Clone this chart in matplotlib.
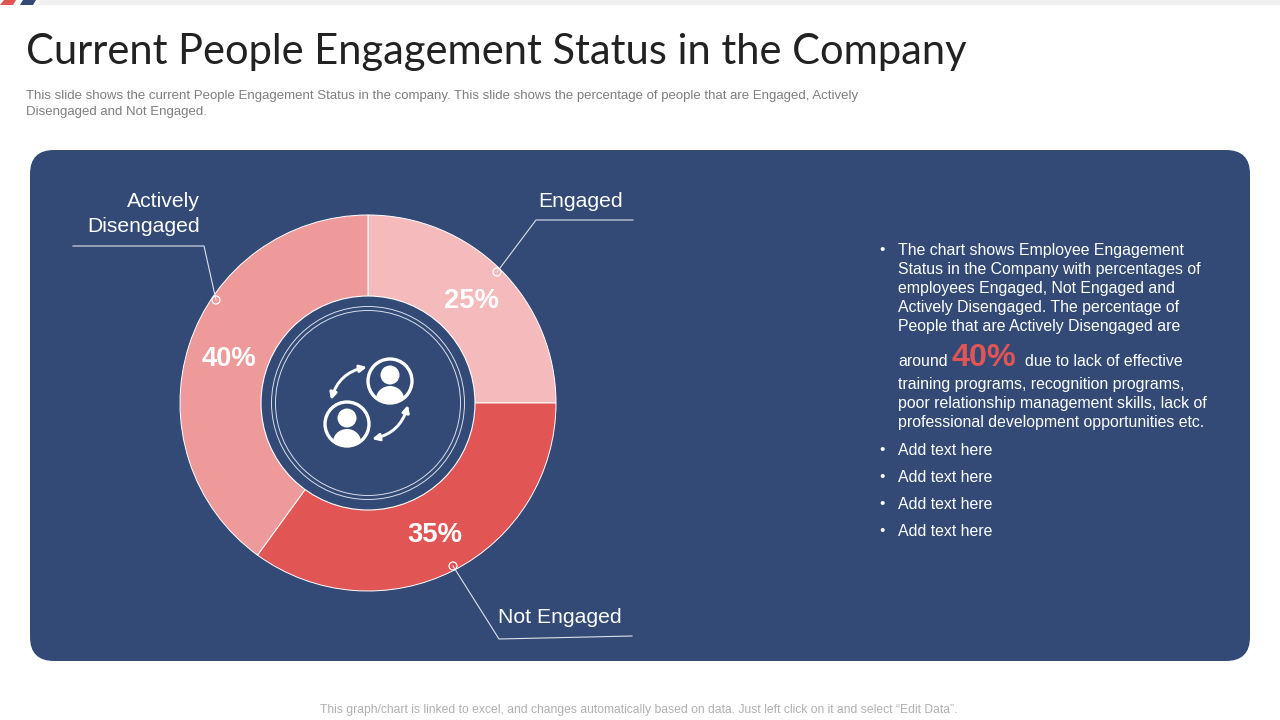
#-*- coding:utf-8 -*-

import matplotlib.pyplot as plt
from matplotlib.patches import Circle, Ellipse, FancyArrowPatch, FancyBboxPatch, Polygon

# chart data
categories = ["Engaged", "Not Engaged", "Actively Disengaged"]
shares = [25, 35, 40]
colors = ["#F4BABC", "#E15554", "#EE9A9A"]

title = "Current People Engagement Status in the Company"
intro = ["This slide shows the current People Engagement Status in the company. This slide shows the percentage of people that are Engaged, Actively",
	"Disengaged and Not Engaged."]
footer = "This graph/chart is linked to excel, and changes automatically based on data. Just left click on it and select \u201cEdit Data\u201d."
para_top = ["The chart shows Employee Engagement",
	"Status in the Company with percentages of",
	"employees Engaged, Not Engaged and",
	"Actively Disengaged. The percentage of",
	"People that are Actively Disengaged are"]
para_bottom = ["training programs, recognition programs,",
	"poor relationship management skills, lack of",
	"professional development opportunities etc."]
extra_bullets = ["Add text here", "Add text here", "Add text here", "Add text here"]

NAVY = "#334A76"

#main
if  __name__ == "__main__":

	# plot setting
	plt.rcParams['font.family'] = ['Liberation Sans', 'DejaVu Sans']
	fig, ax = plt.subplots(1, 1, figsize=(12.8, 7.2), dpi=100)
	ax.set_position([0, 0, 1, 1])
	ax.axis("off")

	# top strip
	ax.add_patch(Polygon([(40, 0), (1280, 0), (1280, 5), (38, 5)], color="#EFEFEF", lw=0))
	ax.add_patch(Polygon([(4, 0), (16, 0), (13, 5), (0, 5)], color="#E15554", lw=0))
	ax.add_patch(Polygon([(23, 0), (36, 0), (33, 5), (20, 5)], color=NAVY, lw=0))

	# panel
	ax.add_patch(FancyBboxPatch((54, 174), 1172, 463, boxstyle="round,pad=24,rounding_size=24", fc=NAVY, ec="none"))

	# donut
	wedges, texts, autotexts = ax.pie(shares, colors=colors, center=(368, 403), radius=188, startangle=270,
		autopct='%d%%', pctdistance=0.78, frame=False,
		wedgeprops={'edgecolor': 'white', 'linewidth': 0.7},
		textprops={'color': 'white', 'fontsize': 19.7, 'fontweight': 'bold'})
	ax.set_xlim(0, 1280)
	ax.set_ylim(720, 0)
	ax.set_aspect("auto")
	for t in autotexts:
		t.set_y(t.get_position()[1] + 1.5)

	# hole
	ax.add_patch(Circle((368, 403), 107, fc=NAVY, ec="white", lw=0.8))
	ax.add_patch(Circle((368, 403), 96.5, fc="none", ec="#D8DEE8", lw=0.7))
	ax.add_patch(Circle((368, 403), 92.5, fc="none", ec="#D8DEE8", lw=0.7))

	# people icon
	for cx, cy in [(390, 381), (347, 424)]:
		ring = Circle((cx, cy), 22, fc="none", ec="white", lw=2.4)
		ax.add_patch(ring)
		ax.add_patch(Circle((cx, cy - 6), 9.5, fc="white", ec="none"))
		clip = Circle((cx, cy), 21, transform=ax.transData)
		body = Ellipse((cx, cy + 18), 28, 26, fc="white", ec="none")
		ax.add_patch(body)
		body.set_clip_path(clip)
	for start, end, rad in [((367, 367), (331, 400), 0.3), ((408, 405), (372, 439), -0.3)]:
		ax.add_patch(FancyArrowPatch(start, end, connectionstyle="arc3,rad=%.1f" % rad, arrowstyle="<|-|>",
			mutation_scale=10, color="white", lw=2.1, shrinkA=0, shrinkB=0))

	# leader lines
	leaders = [[(497, 272), (536, 220), (633, 220)],
		[(216, 300), (204, 246), (73, 246)],
		[(453, 566), (499, 639), (632, 636)]]
	for leader in leaders:
		ax.plot([p[0] for p in leader], [p[1] for p in leader], '-', color="#DDE2EA", lw=0.8)
		ax.add_patch(Circle(leader[0], 4, fc="none", ec="white", lw=0.9, zorder=3))

	ax.text(581, 201.5, categories[0], color="white", fontsize=15.2, ha="center", va="center")
	ax.text(560, 617.5, categories[1], color="white", fontsize=15.2, ha="center", va="center")
	ax.text(200, 201.5, "Actively", color="white", fontsize=15.2, ha="right", va="center")
	ax.text(200, 226.5, "Disengaged", color="white", fontsize=15.2, ha="right", va="center")

	# header
	ax.text(26, 52, title, color="#222222", fontsize=30, family="Lato", va="center")
	ax.text(26, 95.5, intro[0], color="#7F7F7F", fontsize=9.55, va="center")
	ax.text(26, 111.5, intro[1], color="#7F7F7F", fontsize=9.55, va="center")
	ax.text(639, 710.5, footer, color="#B0B0B0", fontsize=8.7, ha="center", va="center")

	# right text
	ax.text(882, 250, "\u2022", color="white", fontsize=11, ha="center", va="center")
	for i, line in enumerate(para_top):
		ax.text(898, 250.5 + i * 19, line, color="white", fontsize=11.4, va="center")
	ax.text(898, 361.5, "around", color="white", fontsize=11.4, va="center")
	ax.text(951, 357.5, "40%", color="#E15554", fontsize=23.3, fontweight="bold", va="center")
	ax.text(1025, 361.5, "due to lack of effective", color="white", fontsize=11.4, va="center")
	for i, line in enumerate(para_bottom):
		ax.text(898, 384.5 + i * 19, line, color="white", fontsize=11.4, va="center")
	for i, line in enumerate(extra_bullets):
		ax.text(882, 450 + i * 27, "\u2022", color="white", fontsize=11, ha="center", va="center")
		ax.text(898, 450.5 + i * 27, line, color="white", fontsize=11.4, va="center")

	plt.savefig("out.png", dpi=100)
